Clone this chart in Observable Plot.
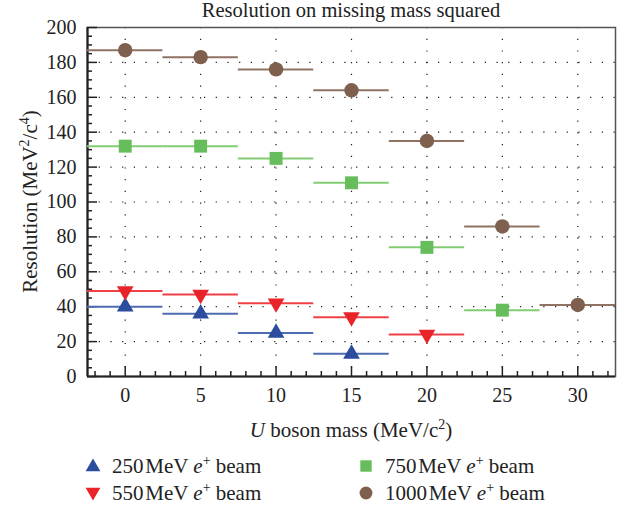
<!DOCTYPE html>
<html><head><meta charset="utf-8">
<script src="https://cdn.jsdelivr.net/npm/d3@7"></script>
<script src="https://cdn.jsdelivr.net/npm/@observablehq/plot@0.6"></script>
<style>
body{margin:0;background:#fff;font-family:"Liberation Serif","DejaVu Serif",serif;color:#222;}
#wrap{width:631px;height:509px;position:relative;overflow:hidden;}
#title{height:20px;line-height:21px;font-size:20.5px;text-align:center;padding-left:87px;padding-right:16px;box-sizing:border-box;width:631px;white-space:nowrap;}
#legend{position:absolute;left:0;top:450px;width:631px;height:59px;font-size:21px;}
.item{position:absolute;display:flex;align-items:center;height:26px;white-space:nowrap;}
.item svg{margin-right:8px;}
</style></head>
<body><div id="wrap"><div id="title">Resolution on missing mass squared</div><div id="chart"></div><div id="legend"></div></div>
<script>
const masses = [0, 5, 10, 15, 20, 25, 30];
const res250 = [40, 36, 25, 13];
const res550 = [49, 47, 42, 34, 24];
const res750 = [132, 132, 125, 111, 74, 38];
const res1000 = [187, 183, 176, 164, 135, 86, 41];
const seriesNames = ["250", "550", "750", "1000"];
const seriesValues = [res250, res550, res750, res1000];
const binHalfWidth = 2.5;
const yTicks = d3.range(0, 201, 20);
const yMinor = d3.range(0, 201, 5);
const xTicks = d3.range(0, 31, 5);
const xMinor = d3.range(-2, 33, 1);

const markColors = ["#2c4d9e", "#e8242a", "#67bd5b", "#7f604f"];
const barColors = ["#4d6cb2", "#ef4046", "#82cc75", "#8f7262"];
const symbols = ["triangle", "triangle", "square", "circle"];
const rotations = [0, 180, 0, 0];
const radii = [6.2, 6.2, 7.3, 7.2];

const rows = [];
seriesValues.forEach((vals, s) => vals.forEach((v, i) => rows.push({series: s, mass: masses[i], value: v})));

const W = 631, H = 430;
const chart = Plot.plot({
  width: W, height: H,
  marginLeft: 87, marginRight: 16, marginTop: 7, marginBottom: 74,
  style: {fontFamily: '"Liberation Serif", "DejaVu Serif", serif', fontSize: "20px", color: "#222", overflow: "visible"},
  x: {domain: [-2.5, 32.5], label: null},
  y: {domain: [0, 200], label: null},
  marks: [
    Plot.gridX(xTicks, {stroke: "#000", strokeOpacity: 0.9, strokeDasharray: "1.2,10.5", strokeWidth: 1.2}),
    Plot.gridY(yTicks, {stroke: "#000", strokeOpacity: 0.9, strokeDasharray: "1.2,10.5", strokeWidth: 1.2}),
    Plot.frame({stroke: "#555", strokeWidth: 1.5}),
    Plot.ruleX([-2.5], {stroke: "#222", strokeWidth: 2.2}),
    Plot.ruleY([0], {stroke: "#222", strokeWidth: 2.2}),
    Plot.axisY(yTicks, {tickSize: 0, tickPadding: 11, fontSize: 20, label: null}),
    Plot.axisY(yMinor.filter(v => v % 20 !== 0), {tickSize: -5, tickFormat: () => "", label: null, stroke: "#222", strokeWidth: 1.5}),
    Plot.axisY(yTicks, {tickSize: -10, tickFormat: () => "", label: null, stroke: "#222", strokeWidth: 1.5}),
    Plot.axisX(xTicks, {tickSize: 0, tickPadding: 11, fontSize: 20, label: null}),
    Plot.axisX(xMinor.filter(v => v % 5 !== 0), {tickSize: -5, tickFormat: () => "", label: null, stroke: "#222", strokeWidth: 1.5}),
    Plot.axisX(xTicks, {tickSize: -10, tickFormat: () => "", label: null, stroke: "#222", strokeWidth: 1.5}),
    Plot.ruleY(rows, {y: "value", x1: d => d.mass - binHalfWidth, x2: d => d.mass + binHalfWidth, stroke: d => barColors[d.series], strokeWidth: 2}),
    ...seriesNames.map((n, s) => Plot.dot(rows.filter(d => d.series === s), {
      x: "mass", y: "value", symbol: () => symbols[s], r: radii[s], rotate: rotations[s],
      fill: markColors[s], stroke: "none"
    }))
  ]
});
document.getElementById("chart").appendChild(chart);

// axis titles
const svg = d3.select(chart);
const xs = chart.scale("x"), ysc = chart.scale("y");
const cx = (xs.range[0] + xs.range[1]) / 2;
const cy = (ysc.range[0] + ysc.range[1]) / 2;
const xl = svg.append("text").attr("x", cx).attr("y", H - 13).attr("text-anchor", "middle")
  .style("font-size", "21px").attr("fill", "#222");
xl.append("tspan").style("font-style", "italic").text("U");
xl.append("tspan").text(" boson mass (MeV/c");
xl.append("tspan").attr("dy", -8).style("font-size", "14px").text("2");
xl.append("tspan").attr("dy", 8).text(")");
const yl = svg.append("text").attr("transform", `translate(37,${cy}) rotate(-90)`).attr("text-anchor", "middle")
  .style("font-size", "21px").attr("fill", "#222");
yl.append("tspan").text("Resolution (MeV");
yl.append("tspan").attr("dy", -8).style("font-size", "14px").text("2");
yl.append("tspan").attr("dy", 8).text("/c");
yl.append("tspan").attr("dy", -8).style("font-size", "14px").text("4");
yl.append("tspan").attr("dy", 8).text(")");

// legend
const legend = document.getElementById("legend");
const pos = [[82, 3], [82, 30], [355, 3], [355, 30]];
seriesNames.forEach((n, s) => {
  const div = document.createElement("div");
  div.className = "item";
  div.style.left = pos[s][0] + "px";
  div.style.top = pos[s][1] + "px";
  const sym = d3.symbol(s < 2 ? d3.symbolTriangle : s === 2 ? d3.symbolSquare : d3.symbolCircle, s >= 2 ? 130 : 95)();
  div.innerHTML = `<svg width="22" height="22"><path d="${sym}" fill="${markColors[s]}" transform="translate(11,${s===0?12:s===1?10:11}) rotate(${rotations[s]})"/></svg><span>${n}&#8202;MeV <i>e</i><sup style="font-size:14px;line-height:0">+</sup> beam</span>`;
  legend.appendChild(div);
});
</script></body></html>
